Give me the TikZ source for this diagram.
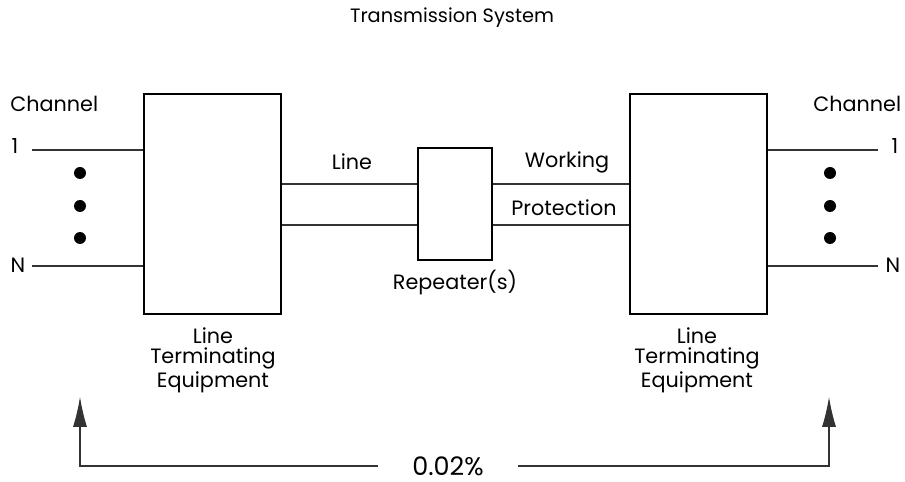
\documentclass[tikz,border=0pt]{standalone}
\usepackage{fontspec}
\setmainfont{Poppins}
\usetikzlibrary{positioning,calc,arrows.meta}

\begin{document}
\begin{tikzpicture}[x=0.02cm,y=-0.02cm]
            \tikzstyle{box}=[draw, line width=0.6pt, minimum width=2.74cm, minimum height=4.4cm, inner sep=0pt]
            \tikzstyle{lbl}=[font=\fontsize{11.8}{11.8}\selectfont, inner sep=0pt]
            \tikzstyle{wire}=[line width=0.6pt, black!80]
            \tikzstyle{dot}=[circle, fill=black, inner sep=0pt, minimum size=0.24cm]

            \useasboundingbox (0,0) rectangle (905,482);

            % title
            \node[lbl, font=\fontsize{11}{12}\selectfont] (title) at (452,18) {Transmission System};

            % terminal equipment and repeater
            \node[box] (lteL) at (212.5,204) {};
            \node[box] (lteR) at (698.5,204) {};
            \node[box, minimum width=1.48cm, minimum height=2.24cm] (rep) at (455,204) {};

            \node[lbl, align=center] (lteLtxt) at (213,360) {Line\\Terminating\\Equipment};
            \node[lbl, align=center] (lteRtxt) at (697,360) {Line\\Terminating\\Equipment};
            \node[lbl] (reptxt) at (455,283) {Repeater(s)};

            % channels
            \node[lbl, anchor=west] (chL) at (10,104) {Channel};
            \node[lbl, anchor=west] (chR) at (813,104) {Channel};
            \node[lbl] (oneL) at (15,146) {1};
            \node[lbl] (nL) at (18,265) {N};
            \node[lbl] (oneR) at (895,146) {1};
            \node[lbl] (nR) at (893,265) {N};

            \coordinate (c1L) at (32,150);
            \coordinate (cNL) at (32,266);
            \coordinate (c1R) at (878,150);
            \coordinate (cNR) at (878,266);

            \draw[wire] (c1L) -- (lteL.west |- c1L);
            \draw[wire] (cNL) -- (lteL.west |- cNL);
            \draw[wire] (lteR.east |- c1R) -- (c1R);
            \draw[wire] (lteR.east |- cNR) -- (cNR);

            \foreach \y in {173,206,238}
            {
                \node[dot] at (80,\y) {};
                \node[dot] at (830,\y) {};
            }

            % line side
            \draw[wire] (lteL.east |- 0,184) -- (rep.west |- 0,184);
            \draw[wire] (lteL.east |- 0,225) -- (rep.west |- 0,225);
            \draw[wire] (rep.east |- 0,184) -- (lteR.west |- 0,184);
            \draw[wire] (rep.east |- 0,225) -- (lteR.west |- 0,225);

            \node[lbl] (line) at (352,162) {Line};
            \node[lbl] (work) at (567,162) {Working};
            \node[lbl] (prot) at (564,208) {Protection};

            % availability
            \node[lbl, font=\fontsize{14.5}{16}\selectfont, minimum width=2.8cm] (pct) at (448,466) {0.02\%};
            \coordinate (tipL) at (80,397);
            \coordinate (tipR) at (829,397);
            \draw[wire, -{Latex[length=17pt,width=8pt]}] (pct.west) -| (tipL);
            \draw[wire, -{Latex[length=17pt,width=8pt]}] (pct.east) -| (tipR);
\end{tikzpicture}
\end{document}
